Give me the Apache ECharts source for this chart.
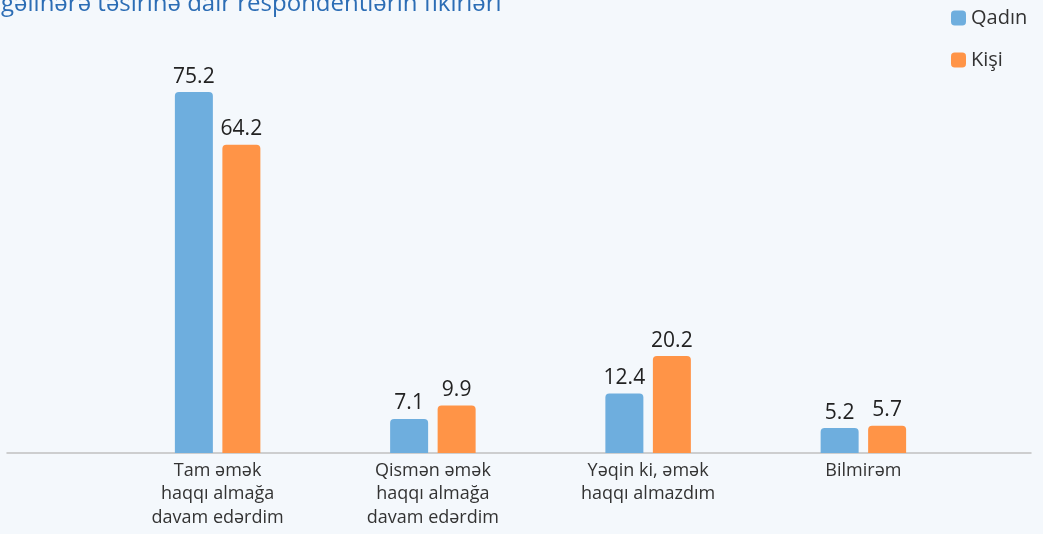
<!DOCTYPE html>
<html>
<head>
<meta charset="utf-8">
<script src="https://cdn.jsdelivr.net/npm/echarts@6/dist/echarts.min.js"></script>
<style>
  html, body { margin: 0; padding: 0; background: #f4f8fc; }
  #chart { width: 1043px; height: 534px; }
</style>
</head>
<body>
<div id="chart"></div>
<script>
// kateqoriyalar və dəyərlər
const categories = [
  'Tam əmək\nhaqqı almağa\ndavam edərdim',
  'Qismən əmək\nhaqqı almağa\ndavam edərdim',
  'Yəqin ki, əmək\nhaqqı almazdım',
  'Bilmirəm'
];
const qadin = [75.2, 7.1, 12.4, 5.2];
const kisi = [64.2, 9.9, 20.2, 5.7];

const chart = echarts.init(document.getElementById('chart'));

const labelStyle = {
  show: true,
  position: 'top',
  distance: 5,
  fontSize: 21,
  color: '#222',
  fontFamily: 'Open Sans'
};

const option = {
  backgroundColor: '#f4f8fc',
  textStyle: { fontFamily: 'Open Sans' },
  title: {
    text: 'gəlinərə təsirinə dair respondentlərin fikirləri',
    left: -4,
    top: -13,
    textStyle: { fontSize: 24, fontWeight: 'normal', color: '#2c6db5', fontFamily: 'Open Sans' }
  },
  legend: {
    orient: 'vertical',
    left: 946,
    top: 3,
    icon: 'roundRect',
    itemWidth: 15,
    itemHeight: 15,
    itemGap: 22,
    textStyle: { fontSize: 20, color: '#333' },
    data: ['Qadın', 'Kişi']
  },
  grid: [
    { left: 110, right: 72, top: 69, bottom: 81 },
    { left: 7, right: 12, top: 69, bottom: 81 }
  ],
  xAxis: [
    {
      type: 'category',
      gridIndex: 0,
      data: categories,
      axisLine: { show: false },
      axisTick: { show: false },
      axisLabel: { fontSize: 18, color: '#333', lineHeight: 23.5, margin: 6 }
    },
    {
      type: 'category',
      gridIndex: 1,
      data: [''],
      axisLine: { show: true, lineStyle: { color: '#c0c0c0', width: 1.5 } },
      axisTick: { show: false },
      axisLabel: { show: false }
    }
  ],
  yAxis: [
    { type: 'value', gridIndex: 0, min: 0, max: 80, show: false },
    { type: 'value', gridIndex: 1, min: 0, max: 80, show: false }
  ],
  series: [
    {
      name: 'Qadın',
      type: 'bar',
      data: qadin,
      barWidth: 38,
      barGap: '25%',
      itemStyle: { color: '#6eaede', borderRadius: [4, 4, 0, 0] },
      label: labelStyle
    },
    {
      name: 'Kişi',
      type: 'bar',
      data: kisi,
      barWidth: 38,
      barGap: '25%',
      itemStyle: { color: '#ff9447', borderRadius: [4, 4, 0, 0] },
      label: labelStyle
    }
  ]
};

chart.setOption(option);
window.addEventListener('resize', () => chart.resize());
</script>
</body>
</html>
